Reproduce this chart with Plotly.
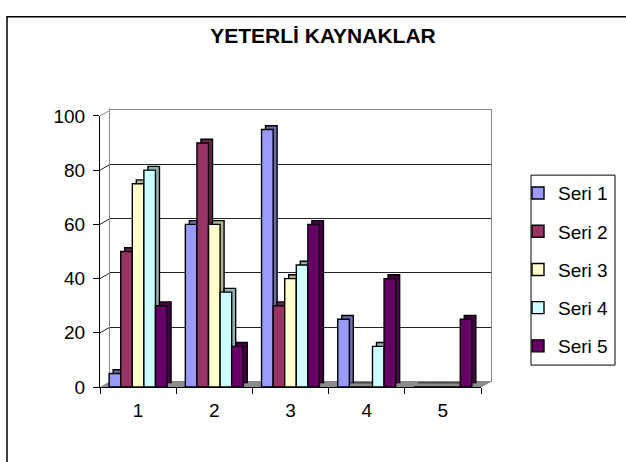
import plotly.graph_objects as go

W, H = 626, 462

categories = ["1", "2", "3", "4", "5"]
series_names = ["Seri 1", "Seri 2", "Seri 3", "Seri 4", "Seri 5"]
seri1 = [5, 60, 95, 25, 0]
seri2 = [50, 90, 30, 0, 0]
seri3 = [75, 60, 40, 0, 0]
seri4 = [80, 35, 45, 15, 0]
seri5 = [30, 15, 60, 40, 25]
y_ticks = [0, 20, 40, 60, 80, 100]

front_colors = ["#9999FF", "#993366", "#FFFFCC", "#CCFFFF", "#660066"]
side_colors = ["#6B6BB3", "#6B2447", "#B3B38F", "#8FB3B3", "#470047"]


def px(x):
    return x / W


def py(y):
    return 1 - y / H


# pixel frames: front axis, bar depth, back wall
front = dict(x0=100, x1=481, y0=395, y1=111)
depth = dict(x0=104, x1=485, y0=391, y1=107)
wall = dict(x0=110, x1=491, y0=389, y1=105)

fig = go.Figure()

# empty trace so the back-wall subplot gets drawn
fig.add_trace(go.Scatter(x=[None], y=[None], xaxis="x", yaxis="y",
                         showlegend=False, hoverinfo="skip"))

values = [seri1, seri2, seri3, seri4, seri5]
for name, vals, c in zip(series_names, values, side_colors):
    fig.add_trace(go.Bar(x=categories, y=vals, name=name, showlegend=False,
                         marker=dict(color=c, line=dict(color="black", width=1.4)),
                         xaxis="x2", yaxis="y2", hoverinfo="skip"))
for name, vals, c in zip(series_names, values, front_colors):
    fig.add_trace(go.Bar(x=categories, y=vals, name=name, legendgroup=name,
                         marker=dict(color=c, line=dict(color="black", width=1.4)),
                         xaxis="x3", yaxis="y3"))

# floor
fig.add_shape(type="path", xref="paper", yref="paper", layer="below",
              path=f"M{px(100)},{py(395)} L{px(481)},{py(395)} L{px(491)},{py(389)} L{px(110)},{py(389)} Z",
              fillcolor="#8C8C8C", line=dict(width=0))
# left wall lines
for v in y_ticks[1:]:
    yf = front["y0"] + (front["y1"] - front["y0"]) * v / 100
    yw = wall["y0"] + (wall["y1"] - wall["y0"]) * v / 100
    fig.add_shape(type="line", xref="paper", yref="paper", layer="below",
                  x0=px(100), y0=py(yf), x1=px(110), y1=py(yw),
                  line=dict(color="#888888" if v == 100 else "#222222", width=1))
fig.add_shape(type="line", xref="paper", yref="paper", layer="below",
              x0=px(481), y0=py(395), x1=px(491), y1=py(389),
              line=dict(color="#888888", width=1))
# outer border
fig.add_shape(type="rect", xref="paper", yref="paper",
              x0=px(7), y0=py(7), x1=px(640), y1=py(480),
              line=dict(color="black", width=1.5))
# legend box
fig.add_shape(type="rect", xref="paper", yref="paper",
              x0=px(531), y0=py(173), x1=px(615), y1=py(372),
              line=dict(color="black", width=1))

hidden = dict(showticklabels=False, ticks="", zeroline=False)
fig.update_layout(
    width=W, height=H, autosize=False,
    margin=dict(l=0, r=0, t=0, b=0),
    paper_bgcolor="white", plot_bgcolor="rgba(0,0,0,0)",
    font=dict(family="Liberation Sans, Arial", size=19, color="black"),
    title=dict(text="<b>YETERLİ KAYNAKLAR</b>", x=px(323), y=py(36),
               xanchor="center", yanchor="middle",
               font=dict(size=21, color="black")),
    barmode="group", bargap=0.24, bargroupgap=0,
    showlegend=True,
    legend=dict(x=px(518), y=py(172), xanchor="left", yanchor="top",
                bgcolor="rgba(0,0,0,0)", borderwidth=0,
                traceorder="grouped", tracegroupgap=10.5,
                font=dict(size=19)),
    xaxis=dict(domain=[px(wall["x0"]), px(wall["x1"])], range=[0, 1],
               showgrid=False, showline=True, mirror=True, linecolor="#888888",
               anchor="y", **hidden),
    yaxis=dict(domain=[py(wall["y0"]), py(wall["y1"])], range=[0, 100],
               tickvals=y_ticks[1:-1], showgrid=True, gridcolor="#222222", gridwidth=1,
               showline=True, mirror=True, linecolor="#888888",
               anchor="x", **hidden),
    xaxis2=dict(domain=[px(depth["x0"]), px(depth["x1"])], type="category",
                range=[-0.5, 4.5], showgrid=False, showline=False,
                anchor="y2", **hidden),
    yaxis2=dict(domain=[py(depth["y0"]), py(depth["y1"])], range=[0, 100],
                showgrid=False, showline=False, anchor="x2", **hidden),
    xaxis3=dict(domain=[px(front["x0"]), px(front["x1"])], type="category",
                range=[-0.5, 4.5], showgrid=False, showline=True, linecolor="black",
                ticks="outside", tickson="boundaries", ticklen=6, tickcolor="black",
                ticklabelstandoff=6, zeroline=False, anchor="y3"),
    yaxis3=dict(domain=[py(front["y0"]), py(front["y1"])], range=[0, 100],
                tickvals=y_ticks, showgrid=False, showline=True, linecolor="black",
                ticks="outside", ticklen=6, tickcolor="black",
                ticklabelstandoff=4, zeroline=False, anchor="x3"),
)

fig.write_html("out.html", config={"displayModeBar": False},
               post_script="document.body.style.margin='0';")
